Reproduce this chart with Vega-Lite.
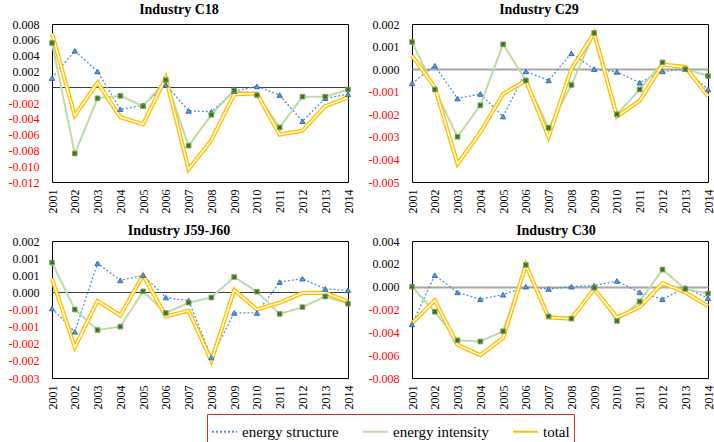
{
 "$schema": "https://vega.github.io/schema/vega-lite/v6.json",
 "background": "white",
 "padding": {"left": 7, "top": 2, "right": 4, "bottom": 0},
 "datasets": {
  "d": [
   {"p":"C18","year":"2001","energy structure":0.00115,"energy intensity":0.0056,"total":0.0068},
   {"p":"C18","year":"2002","energy structure":0.0046,"energy intensity":-0.0084,"total":-0.0036},
   {"p":"C18","year":"2003","energy structure":0.002,"energy intensity":-0.0014,"total":0.0006},
   {"p":"C18","year":"2004","energy structure":-0.0028,"energy intensity":-0.0011,"total":-0.0038},
   {"p":"C18","year":"2005","energy structure":-0.0023,"energy intensity":-0.0024,"total":-0.0047},
   {"p":"C18","year":"2006","energy structure":0.0003,"energy intensity":0.0009,"total":0.0012},
   {"p":"C18","year":"2007","energy structure":-0.003,"energy intensity":-0.0074,"total":-0.0104},
   {"p":"C18","year":"2008","energy structure":-0.0031,"energy intensity":-0.0035,"total":-0.0067},
   {"p":"C18","year":"2009","energy structure":-0.0005,"energy intensity":-0.0004,"total":-0.0009},
   {"p":"C18","year":"2010","energy structure":0.0001,"energy intensity":-0.001,"total":-0.0008},
   {"p":"C18","year":"2011","energy structure":-0.001,"energy intensity":-0.0051,"total":-0.006},
   {"p":"C18","year":"2012","energy structure":-0.0043,"energy intensity":-0.0012,"total":-0.0055},
   {"p":"C18","year":"2013","energy structure":-0.0014,"energy intensity":-0.0012,"total":-0.0024},
   {"p":"C18","year":"2014","energy structure":-0.0009,"energy intensity":-0.0003,"total":-0.0013},
   {"p":"C29","year":"2001","energy structure":-0.00063,"energy intensity":0.0012,"total":0.0006},
   {"p":"C29","year":"2002","energy structure":0.00015,"energy intensity":-0.0009,"total":-0.0008},
   {"p":"C29","year":"2003","energy structure":-0.0013,"energy intensity":-0.003,"total":-0.0042},
   {"p":"C29","year":"2004","energy structure":-0.0011,"energy intensity":-0.0016,"total":-0.0028},
   {"p":"C29","year":"2005","energy structure":-0.0021,"energy intensity":0.0011,"total":-0.0011},
   {"p":"C29","year":"2006","energy structure":-0.0001,"energy intensity":-0.0005,"total":-0.0005},
   {"p":"C29","year":"2007","energy structure":-0.0005,"energy intensity":-0.0026,"total":-0.003},
   {"p":"C29","year":"2008","energy structure":0.0007,"energy intensity":-0.0007,"total":0.0},
   {"p":"C29","year":"2009","energy structure":0.0,"energy intensity":0.0016,"total":0.0016},
   {"p":"C29","year":"2010","energy structure":-0.00012,"energy intensity":-0.002,"total":-0.0021},
   {"p":"C29","year":"2011","energy structure":-0.0006,"energy intensity":-0.0009,"total":-0.0014},
   {"p":"C29","year":"2012","energy structure":-0.0001,"energy intensity":0.0003,"total":0.0002},
   {"p":"C29","year":"2013","energy structure":0.0,"energy intensity":0.0,"total":0.0001},
   {"p":"C29","year":"2014","energy structure":-0.0009,"energy intensity":-0.0003,"total":-0.0012},
   {"p":"J59","year":"2001","energy structure":-0.00047,"energy intensity":0.00087,"total":0.0004},
   {"p":"J59","year":"2002","energy structure":-0.00115,"energy intensity":-0.0005,"total":-0.0016},
   {"p":"J59","year":"2003","energy structure":0.00085,"energy intensity":-0.0011,"total":-0.00025},
   {"p":"J59","year":"2004","energy structure":0.00035,"energy intensity":-0.001,"total":-0.00067},
   {"p":"J59","year":"2005","energy structure":0.0005,"energy intensity":0.00003,"total":0.0005},
   {"p":"J59","year":"2006","energy structure":-0.00015,"energy intensity":-0.0006,"total":-0.0007},
   {"p":"J59","year":"2007","energy structure":-0.00024,"energy intensity":-0.0003,"total":-0.00054},
   {"p":"J59","year":"2008","energy structure":-0.0019,"energy intensity":-0.00015,"total":-0.002},
   {"p":"J59","year":"2009","energy structure":-0.0006,"energy intensity":0.00045,"total":0.00007},
   {"p":"J59","year":"2010","energy structure":-0.0006,"energy intensity":0.00002,"total":-0.0005},
   {"p":"J59","year":"2011","energy structure":0.0003,"energy intensity":-0.00063,"total":-0.0003},
   {"p":"J59","year":"2012","energy structure":0.0004,"energy intensity":-0.00043,"total":-0.00002},
   {"p":"J59","year":"2013","energy structure":0.0001,"energy intensity":-0.00012,"total":-0.00001},
   {"p":"J59","year":"2014","energy structure":0.00006,"energy intensity":-0.00033,"total":-0.00027},
   {"p":"C30","year":"2001","energy structure":-0.0033,"energy intensity":0.0,"total":-0.0032},
   {"p":"C30","year":"2002","energy structure":0.001,"energy intensity":-0.0022,"total":-0.0012},
   {"p":"C30","year":"2003","energy structure":-0.0005,"energy intensity":-0.0047,"total":-0.0051},
   {"p":"C30","year":"2004","energy structure":-0.0011,"energy intensity":-0.0048,"total":-0.006},
   {"p":"C30","year":"2005","energy structure":-0.0007,"energy intensity":-0.0039,"total":-0.0045},
   {"p":"C30","year":"2006","energy structure":0.0,"energy intensity":0.0019,"total":0.0019},
   {"p":"C30","year":"2007","energy structure":-0.0002,"energy intensity":-0.0026,"total":-0.0027},
   {"p":"C30","year":"2008","energy structure":0.0,"energy intensity":-0.0028,"total":-0.0028},
   {"p":"C30","year":"2009","energy structure":0.0001,"energy intensity":-0.0001,"total":-0.0002},
   {"p":"C30","year":"2010","energy structure":0.0005,"energy intensity":-0.003,"total":-0.0027},
   {"p":"C30","year":"2011","energy structure":-0.0005,"energy intensity":-0.0013,"total":-0.0018},
   {"p":"C30","year":"2012","energy structure":-0.0011,"energy intensity":0.0015,"total":0.0003},
   {"p":"C30","year":"2013","energy structure":-0.0001,"energy intensity":-0.0002,"total":-0.0005},
   {"p":"C30","year":"2014","energy structure":-0.001,"energy intensity":-0.0006,"total":-0.0017}
  ]
 },
 "spacing": 9,
 "vconcat": [
  {
   "spacing": 10,
   "resolve": {"scale": {"color": "shared", "strokeDash": "shared"}},
   "hconcat": [
    {
     "width": 296, "height": 158,
     "title": {"text": "Industry C18", "offset": 1, "dx": -21},
     "data": {"name": "d"},
     "transform": [{"filter": "datum.p == 'C18'"}, {"fold": ["energy structure", "energy intensity", "total"], "as": ["series", "value"]}],
     "encoding": {
      "x": {"field": "year", "type": "ordinal", "scale": {"padding": 0}, "title": null, "axis": {"labelFont": "Liberation Serif"}},
      "y": {"field": "value", "type": "quantitative", "title": null,
       "scale": {"domain": [-0.012, 0.008], "nice": false, "zero": false},
       "axis": {"values": [-0.012,-0.01,-0.008,-0.006,-0.004,-0.002,0,0.002,0.004,0.006,0.008], "labelFont": "Liberation Serif",
        "labelExpr": "(datum.value < 0 ? '-' : '') + format(round(abs(datum.value) * 1000 + 0.000001) / 1000, '.3f')",
        "labelColor": {"condition": {"test": "datum.value < 0", "value": "#ff0000"}, "value": "#000000"},
        "grid": true, "gridColor": "#404040", "gridWidth": 1,
        "gridOpacity": {"condition": {"test": "datum.value == 0", "value": 1}, "value": 0}}}
     },
     "layer": [
      {"transform": [{"filter": "datum.series == 'energy structure'"}], "mark": {"type": "line", "strokeWidth": 1.3}, "encoding": {
        "color": {"field": "series", "type": "nominal", "scale": {"domain": ["energy structure", "energy intensity", "total"], "range": ["#4f92d6", "#bcdca6", "#ffc000"]}, "legend": {"title": null}},
        "strokeDash": {"field": "series", "type": "nominal", "scale": {"domain": ["energy structure", "energy intensity", "total"], "range": [[2, 2], [1, 0], [1, 0]]}, "legend": {"title": null}}}},
      {"transform": [{"filter": "datum.series == 'energy intensity'"}], "mark": {"type": "line", "strokeWidth": 2}, "encoding": {
        "color": {"field": "series", "type": "nominal", "legend": {"title": null}},
        "strokeDash": {"field": "series", "type": "nominal", "legend": {"title": null}}}},
      {"transform": [{"filter": "datum.series == 'total'"}], "mark": {"type": "line", "strokeWidth": 4.2}, "encoding": {
        "color": {"field": "series", "type": "nominal", "legend": {"title": null}},
        "strokeDash": {"field": "series", "type": "nominal", "legend": {"title": null}}}},
      {"transform": [{"filter": "datum.series == 'total'"}], "mark": {"type": "line", "color": "#fffce6", "strokeWidth": 1.5}, "encoding": {}},
      {"transform": [{"filter": "datum.series == 'energy structure'"}], "mark": {"type": "point", "shape": "triangle-up", "size": 28, "filled": true, "fill": "#5b9bd5", "stroke": "#2e6db4", "strokeWidth": 1, "opacity": 1}, "encoding": {}},
      {"transform": [{"filter": "datum.series == 'energy intensity'"}], "mark": {"type": "point", "shape": "square", "size": 22, "filled": true, "fill": "#9cc57c", "stroke": "#6a9a48", "strokeWidth": 0.8, "opacity": 1}, "encoding": {}},
      {"transform": [{"filter": "datum.series == 'energy intensity'"}], "mark": {"type": "point", "shape": "cross", "angle": 45, "size": 20, "filled": true, "fill": "#3e6a22", "opacity": 1}, "encoding": {}}
     ]
    },
    {
     "width": 296, "height": 158,
     "title": {"text": "Industry C29", "offset": 1, "dx": -21},
     "data": {"name": "d"},
     "transform": [{"filter": "datum.p == 'C29'"}, {"fold": ["energy structure", "energy intensity", "total"], "as": ["series", "value"]}],
     "encoding": {
      "x": {"field": "year", "type": "ordinal", "scale": {"padding": 0}, "title": null, "axis": {"labelFont": "Liberation Serif"}},
      "y": {"field": "value", "type": "quantitative", "title": null,
       "scale": {"domain": [-0.005, 0.002], "nice": false, "zero": false},
       "axis": {"values": [-0.005,-0.004,-0.003,-0.002,-0.001,0,0.001,0.002], "labelFont": "Liberation Serif",
        "labelExpr": "(datum.value < 0 ? '-' : '') + format(round(abs(datum.value) * 1000 + 0.000001) / 1000, '.3f')",
        "labelColor": {"condition": {"test": "datum.value < 0", "value": "#ff0000"}, "value": "#000000"},
        "grid": true, "gridColor": "#a6a6a6", "gridWidth": 2,
        "gridOpacity": {"condition": {"test": "datum.value == 0", "value": 1}, "value": 0}}}
     },
     "layer": [
      {"transform": [{"filter": "datum.series == 'energy structure'"}], "mark": {"type": "line", "strokeWidth": 1.3}, "encoding": {
        "color": {"field": "series", "type": "nominal", "legend": {"title": null}},
        "strokeDash": {"field": "series", "type": "nominal", "legend": {"title": null}}}},
      {"transform": [{"filter": "datum.series == 'energy intensity'"}], "mark": {"type": "line", "strokeWidth": 2}, "encoding": {
        "color": {"field": "series", "type": "nominal", "legend": {"title": null}},
        "strokeDash": {"field": "series", "type": "nominal", "legend": {"title": null}}}},
      {"transform": [{"filter": "datum.series == 'total'"}], "mark": {"type": "line", "strokeWidth": 4.2}, "encoding": {
        "color": {"field": "series", "type": "nominal", "legend": {"title": null}},
        "strokeDash": {"field": "series", "type": "nominal", "legend": {"title": null}}}},
      {"transform": [{"filter": "datum.series == 'total'"}], "mark": {"type": "line", "color": "#fffce6", "strokeWidth": 1.5}, "encoding": {}},
      {"transform": [{"filter": "datum.series == 'energy structure'"}], "mark": {"type": "point", "shape": "triangle-up", "size": 28, "filled": true, "fill": "#5b9bd5", "stroke": "#2e6db4", "strokeWidth": 1, "opacity": 1}, "encoding": {}},
      {"transform": [{"filter": "datum.series == 'energy intensity'"}], "mark": {"type": "point", "shape": "square", "size": 22, "filled": true, "fill": "#9cc57c", "stroke": "#6a9a48", "strokeWidth": 0.8, "opacity": 1}, "encoding": {}},
      {"transform": [{"filter": "datum.series == 'energy intensity'"}], "mark": {"type": "point", "shape": "cross", "angle": 45, "size": 20, "filled": true, "fill": "#3e6a22", "opacity": 1}, "encoding": {}}
     ]
    }
   ]
  },
  {
   "spacing": 10,
   "resolve": {"scale": {"color": "shared", "strokeDash": "shared"}},
   "hconcat": [
    {
     "width": 296, "height": 137,
     "title": {"text": "Industry J59-J60", "offset": -3, "dx": -21},
     "data": {"name": "d"},
     "transform": [{"filter": "datum.p == 'J59'"}, {"fold": ["energy structure", "energy intensity", "total"], "as": ["series", "value"]}],
     "encoding": {
      "x": {"field": "year", "type": "ordinal", "scale": {"padding": 0}, "title": null, "axis": {"labelFont": "Liberation Serif"}},
      "y": {"field": "value", "type": "quantitative", "title": null,
       "scale": {"domain": [-0.0025, 0.0015], "nice": false, "zero": false},
       "axis": {"values": [-0.0025,-0.002,-0.0015,-0.001,-0.0005,0,0.0005,0.001,0.0015], "labelFont": "Liberation Serif",
        "labelExpr": "(datum.value < 0 ? '-' : '') + format(round(abs(datum.value) * 1000 + 0.000001) / 1000, '.3f')",
        "labelColor": {"condition": {"test": "datum.value < 0", "value": "#ff0000"}, "value": "#000000"},
        "grid": true, "gridColor": "#404040", "gridWidth": 1,
        "gridOpacity": {"condition": {"test": "datum.value == 0", "value": 1}, "value": 0}}}
     },
     "layer": [
      {"transform": [{"filter": "datum.series == 'energy structure'"}], "mark": {"type": "line", "strokeWidth": 1.3}, "encoding": {
        "color": {"field": "series", "type": "nominal", "legend": {"title": null}},
        "strokeDash": {"field": "series", "type": "nominal", "legend": {"title": null}}}},
      {"transform": [{"filter": "datum.series == 'energy intensity'"}], "mark": {"type": "line", "strokeWidth": 2}, "encoding": {
        "color": {"field": "series", "type": "nominal", "legend": {"title": null}},
        "strokeDash": {"field": "series", "type": "nominal", "legend": {"title": null}}}},
      {"transform": [{"filter": "datum.series == 'total'"}], "mark": {"type": "line", "strokeWidth": 4.2}, "encoding": {
        "color": {"field": "series", "type": "nominal", "legend": {"title": null}},
        "strokeDash": {"field": "series", "type": "nominal", "legend": {"title": null}}}},
      {"transform": [{"filter": "datum.series == 'total'"}], "mark": {"type": "line", "color": "#fffce6", "strokeWidth": 1.5}, "encoding": {}},
      {"transform": [{"filter": "datum.series == 'energy structure'"}], "mark": {"type": "point", "shape": "triangle-up", "size": 28, "filled": true, "fill": "#5b9bd5", "stroke": "#2e6db4", "strokeWidth": 1, "opacity": 1}, "encoding": {}},
      {"transform": [{"filter": "datum.series == 'energy intensity'"}], "mark": {"type": "point", "shape": "square", "size": 22, "filled": true, "fill": "#9cc57c", "stroke": "#6a9a48", "strokeWidth": 0.8, "opacity": 1}, "encoding": {}},
      {"transform": [{"filter": "datum.series == 'energy intensity'"}], "mark": {"type": "point", "shape": "cross", "angle": 45, "size": 20, "filled": true, "fill": "#3e6a22", "opacity": 1}, "encoding": {}}
     ]
    },
    {
     "width": 296, "height": 137,
     "title": {"text": "Industry C30", "offset": -3, "dx": -4},
     "data": {"name": "d"},
     "transform": [{"filter": "datum.p == 'C30'"}, {"fold": ["energy structure", "energy intensity", "total"], "as": ["series", "value"]}],
     "encoding": {
      "x": {"field": "year", "type": "ordinal", "scale": {"padding": 0}, "title": null, "axis": {"labelFont": "Liberation Serif"}},
      "y": {"field": "value", "type": "quantitative", "title": null,
       "scale": {"domain": [-0.008, 0.004], "nice": false, "zero": false},
       "axis": {"values": [-0.008,-0.006,-0.004,-0.002,0,0.002,0.004], "labelFont": "Liberation Serif",
        "labelExpr": "(datum.value < 0 ? '-' : '') + format(round(abs(datum.value) * 1000 + 0.000001) / 1000, '.3f')",
        "labelColor": {"condition": {"test": "datum.value < 0", "value": "#ff0000"}, "value": "#000000"},
        "grid": true, "gridColor": "#a6a6a6", "gridWidth": 2,
        "gridOpacity": {"condition": {"test": "datum.value == 0", "value": 1}, "value": 0}}}
     },
     "layer": [
      {"transform": [{"filter": "datum.series == 'energy structure'"}], "mark": {"type": "line", "strokeWidth": 1.3}, "encoding": {
        "color": {"field": "series", "type": "nominal", "legend": {"title": null}},
        "strokeDash": {"field": "series", "type": "nominal", "legend": {"title": null}}}},
      {"transform": [{"filter": "datum.series == 'energy intensity'"}], "mark": {"type": "line", "strokeWidth": 2}, "encoding": {
        "color": {"field": "series", "type": "nominal", "legend": {"title": null}},
        "strokeDash": {"field": "series", "type": "nominal", "legend": {"title": null}}}},
      {"transform": [{"filter": "datum.series == 'total'"}], "mark": {"type": "line", "strokeWidth": 4.2}, "encoding": {
        "color": {"field": "series", "type": "nominal", "legend": {"title": null}},
        "strokeDash": {"field": "series", "type": "nominal", "legend": {"title": null}}}},
      {"transform": [{"filter": "datum.series == 'total'"}], "mark": {"type": "line", "color": "#fffce6", "strokeWidth": 1.5}, "encoding": {}},
      {"transform": [{"filter": "datum.series == 'energy structure'"}], "mark": {"type": "point", "shape": "triangle-up", "size": 28, "filled": true, "fill": "#5b9bd5", "stroke": "#2e6db4", "strokeWidth": 1, "opacity": 1}, "encoding": {}},
      {"transform": [{"filter": "datum.series == 'energy intensity'"}], "mark": {"type": "point", "shape": "square", "size": 22, "filled": true, "fill": "#9cc57c", "stroke": "#6a9a48", "strokeWidth": 0.8, "opacity": 1}, "encoding": {}},
      {"transform": [{"filter": "datum.series == 'energy intensity'"}], "mark": {"type": "point", "shape": "cross", "angle": 45, "size": 20, "filled": true, "fill": "#3e6a22", "opacity": 1}, "encoding": {}}
     ]
    }
   ]
  }
 ],
 "resolve": {"scale": {"color": "shared", "strokeDash": "shared"}},
 "config": {
  "font": "Liberation Serif",
  "style": {"guide-label": {"font": "Liberation Serif"}, "guide-title": {"font": "Liberation Serif"}},
  "view": {"stroke": "#000000", "strokeWidth": 1},
  "axis": {"labelFont": "Liberation Serif", "ticks": false, "domain": false, "title": null},
  "axisX": {"labelFont": "Liberation Serif", "labelAngle": -90, "labelFontSize": 12, "labelPadding": 7, "grid": false, "labelColor": "#000000"},
  "axisY": {"labelFont": "Liberation Serif", "labelFontSize": 12, "labelPadding": 13},
  "title": {"font": "Liberation Serif", "fontSize": 14, "fontWeight": "bold", "color": "#000000", "anchor": "middle"},
  "legend": {"orient": "none", "legendX": 155, "legendY": 390, "direction": "horizontal", "labelFont": "Liberation Serif", "labelFontSize": 15, "labelColor": "#000000", "symbolType": "stroke", "symbolSize": 625, "symbolStrokeWidth": 2, "strokeColor": "#d03030", "padding": 4, "columnPadding": 20, "labelLimit": 300}
 }
}
